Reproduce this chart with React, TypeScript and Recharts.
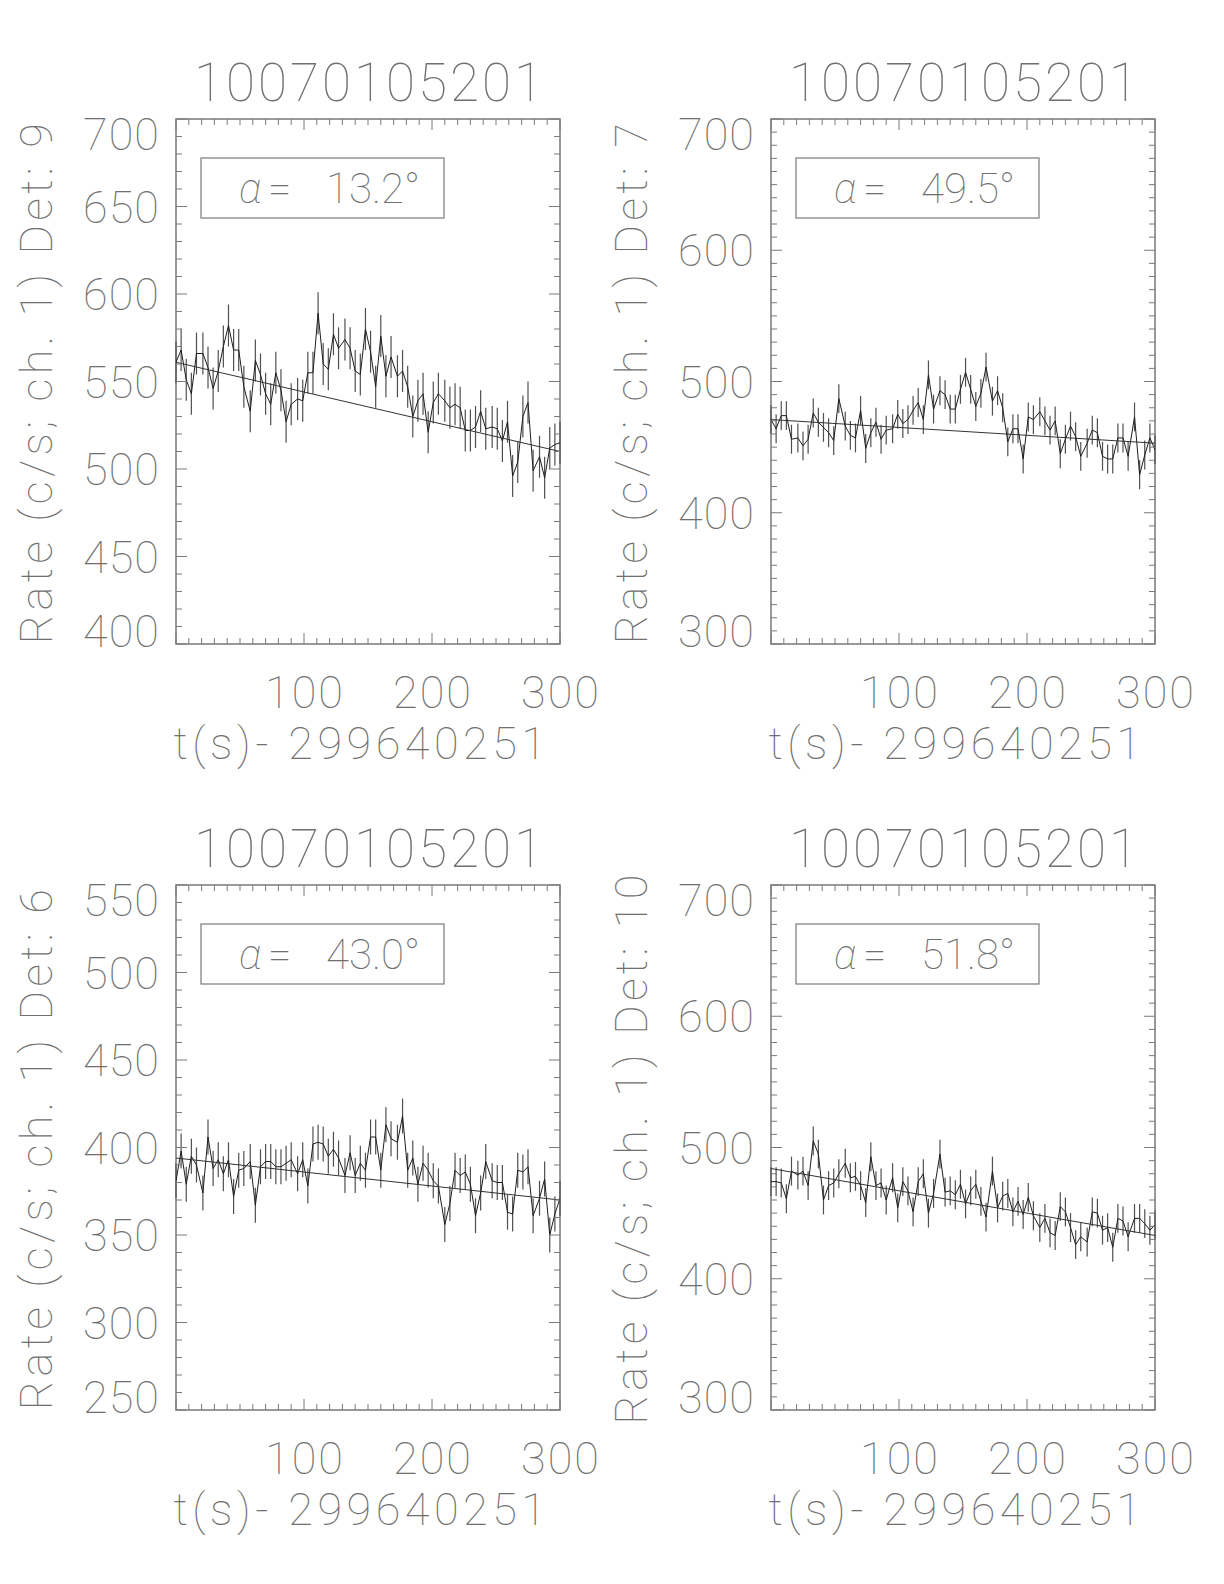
import React from 'react';
import { ComposedChart, Line, XAxis, YAxis, ErrorBar, ReferenceArea } from 'recharts';

const OBS_ID = '10070105201';
const T_LABEL = 't(s)- 299640251';

// bin times (s after 299640251)
const TIME = [
  0, 4, 8, 12, 16, 21, 25, 29, 33, 37,
  41, 45, 49, 53, 58, 62, 66, 70, 74, 78,
  82, 86, 90, 95, 99, 103, 107, 111, 115, 119,
  123, 127, 132, 136, 140, 144, 148, 152, 156, 160,
  164, 168, 173, 177, 181, 185, 189, 193, 197, 201,
  205, 210, 214, 218, 222, 226, 230, 234, 238, 242,
  247, 251, 255, 259, 263, 267, 271, 275, 279, 284,
  288, 292, 296, 300,
];

const RATE_DET9 = [
  561, 568, 551, 543, 566, 566, 558, 546, 556, 570,
  582, 568, 568, 547, 533, 562, 554, 543, 537, 555,
  545, 527, 537, 540, 539, 555, 555, 589, 560, 557,
  577, 569, 574, 569, 556, 554, 580, 567, 547, 576,
  553, 564, 553, 556, 547, 530, 539, 543, 521, 538,
  543, 539, 535, 537, 535, 522, 522, 524, 533, 523,
  524, 523, 516, 527, 496, 504, 530, 538, 499, 507,
  495, 512, 514, 515,
];
const RATE_DET7 = [
  471, 464, 474, 474, 456, 457, 451, 456, 476, 469,
  465, 461, 455, 487, 466, 459, 457, 478, 449, 461,
  469, 456, 463, 464, 475, 468, 471, 478, 484, 471,
  505, 479, 493, 490, 479, 479, 494, 507, 494, 481,
  491, 511, 485, 493, 480, 454, 464, 464, 441, 473,
  471, 477, 470, 463, 470, 445, 456, 466, 458, 443,
  453, 463, 461, 443, 441, 441, 457, 457, 443, 473,
  429, 444, 457, 448,
];
const RATE_DET6 = [
  381, 398, 379, 395, 390, 374, 406, 388, 393, 385,
  393, 372, 387, 388, 392, 367, 389, 392, 392, 389,
  389, 391, 393, 385, 393, 378, 402, 403, 402, 395,
  399, 394, 384, 397, 384, 391, 387, 406, 406, 387,
  413, 405, 403, 418, 387, 394, 379, 391, 387, 381,
  378, 356, 368, 387, 384, 386, 379, 361, 374, 392,
  381, 380, 380, 363, 362, 387, 386, 389, 361, 371,
  382, 350, 362, 371,
];
const RATE_DET10 = [
  474, 474, 473, 461, 482, 479, 482, 471, 505, 495,
  460, 471, 473, 480, 488, 477, 478, 471, 458, 493,
  471, 473, 460, 477, 454, 474, 467, 451, 474, 480,
  450, 465, 495, 466, 467, 464, 472, 457, 467, 472,
  459, 447, 482, 454, 463, 465, 451, 459, 449, 462,
  448, 439, 446, 435, 433, 455, 451, 439, 426, 432,
  428, 451, 450, 437, 439, 424, 446, 444, 432, 446,
  446, 442, 437, 441,
];

// 1-sigma error per bin
const ERR_DET9 = 12;
const ERR_DET7 = 11;
const ERR_DET6 = 10;
const ERR_DET10 = 11;

// straight-line fit, values at t = 0 and t = 300
const FIT_T = [0, 300];
const FIT_DET9 = [561, 510];
const FIT_DET7 = [471, 453];
const FIT_DET6 = [394, 370];
const FIT_DET10 = [484, 433];

const X_LABELS = [100, 200, 300];
const Y_LABELS_DET9 = [400, 450, 500, 550, 600, 650, 700];
const Y_LABELS_DET7 = [300, 400, 500, 600, 700];
const Y_LABELS_DET6 = [250, 300, 350, 400, 450, 500, 550];
const Y_LABELS_DET10 = [300, 400, 500, 600, 700];

const range = (a: number, b: number, s: number) => {
  const out: number[] = [];
  for (let v = a; v <= b; v += s) out.push(v);
  return out;
};
const X_TICKS = range(0, 300, 10);

// layout inside each chart
const CW = 600;
const CH = 780;
const PL = 176;
const PT = 119;
const PW = 384;
const PH = 525;
const PR = PL + PW;
const PB = PT + PH;
const MAJOR = 11;
const MINOR = 6;

const FONT = 'Roboto, "DejaVu Sans", sans-serif';
const TEXT = '#707070';
const AXIS = '#7a7a7a';

function XTick(props: any) {
  const { x, payload } = props;
  const v = payload.value;
  const len = v % 100 === 0 ? MAJOR : MINOR;
  return (
    <g>
      <line x1={x} x2={x} y1={PB} y2={PB - len} stroke={AXIS} strokeWidth={1} />
      <line x1={x} x2={x} y1={PT} y2={PT + len} stroke={AXIS} strokeWidth={1} />
      {X_LABELS.includes(v) && (
        <text x={x + 1} y={PB + 64} textAnchor="middle" fontFamily={FONT} fontWeight={100}
          fontSize={45} letterSpacing={2} fill={TEXT}>{v}</text>
      )}
    </g>
  );
}

function makeYTick(labels: number[], lo: number, hi: number) {
  return function YTick(props: any) {
    const { y, payload } = props;
    const v = payload.value;
    const major = labels.includes(v);
    const len = major ? MAJOR : MINOR;
    let cy = y;
    if (v === hi) cy = y + 15;
    if (v === lo) cy = y - 13;
    return (
      <g>
        <line x1={PL} x2={PL + len} y1={y} y2={y} stroke={AXIS} strokeWidth={1} />
        <line x1={PR} x2={PR - len} y1={y} y2={y} stroke={AXIS} strokeWidth={1} />
        {major && (
          <text x={160} y={cy + 16} textAnchor="end" fontFamily={FONT} fontWeight={100}
            fontSize={45} letterSpacing={1} fill={TEXT}>{v}</text>
        )}
      </g>
    );
  };
}

interface PanelProps {
  det: number;
  alpha: string;
  rate: number[];
  err: number;
  fit: number[];
  yLabels: number[];
  left: number;
  top: number;
}

function Panel({ det, alpha, rate, err, fit, yLabels, left, top }: PanelProps) {
  const lo = yLabels[0];
  const hi = yLabels[yLabels.length - 1];
  const rows = TIME.map((t, i) => ({ t, rate: rate[i], err }));
  const fitRows = FIT_T.map((t, i) => ({ t, fit: fit[i] }));
  const YTick = makeYTick(yLabels, lo, hi);

  return (
    <div style={{ position: 'absolute', left, top, width: CW, height: CH }}>
      <ComposedChart width={CW} height={CH} data={rows}
        margin={{ top: PT, right: CW - PR, bottom: 0, left: 0 }}>
        <XAxis type="number" dataKey="t" domain={[0, 300]} ticks={X_TICKS} interval={0}
          allowDataOverflow height={CH - PB} tickLine={false} axisLine={false} tick={<XTick />} />
        <YAxis type="number" domain={[lo, hi]} ticks={range(lo, hi, 10)} interval={0}
          allowDataOverflow width={PL} tickLine={false} axisLine={false} tick={<YTick />} />
        <ReferenceArea x1={0} x2={300} y1={lo} y2={hi} fill="none" stroke={AXIS}
          strokeWidth={1.5} ifOverflow="visible" />
        <Line type="linear" dataKey="rate" stroke="#1e1e1e" strokeWidth={1} dot={false}
          isAnimationActive={false}>
          <ErrorBar dataKey="err" width={0} stroke="#505050" strokeWidth={1.2} direction="y"
            isAnimationActive={false} />
        </Line>
        <Line type="linear" data={fitRows} dataKey="fit" stroke="#333" strokeWidth={1}
          dot={false} isAnimationActive={false} />
      </ComposedChart>
      <svg width={CW} height={CH} style={{ position: 'absolute', left: 0, top: 0, pointerEvents: 'none' }}>
        <text x={PL + PW / 2 + 2} y={101} textAnchor="middle" fontFamily={FONT} fontWeight={100}
          fontSize={53} letterSpacing={3} fill={TEXT}>{OBS_ID}</text>
        <text x={PL + PW / 2 - 6} y={PB + 115} textAnchor="middle" fontFamily={FONT}
          fontWeight={100} fontSize={45} letterSpacing={4.5} fill={TEXT}>{T_LABEL}</text>
        <text transform={`translate(52, ${PT + PH / 2}) rotate(-90)`} textAnchor="middle"
          fontFamily={FONT} fontWeight={100} fontSize={45} letterSpacing={4.3} fill={TEXT}>
          {`Rate (c/s; ch. 1) Det: ${det}`}
        </text>
        <rect x={PL + 25} y={PT + 39} width={243} height={60} fill="none" stroke={AXIS}
          strokeWidth={1.2} />
        <text y={PT + 84} fontFamily={FONT} fontWeight={100} fontSize={42} fill={TEXT}>
          <tspan x={PL + 63} fontStyle="italic">α</tspan>
          <tspan x={PL + 92}>=</tspan>
          <tspan x={PL + 150}>{`${alpha}°`}</tspan>
        </text>
      </svg>
    </div>
  );
}

export default function App() {
  return (
    <div style={{ position: 'relative', width: 1224, height: 1584, margin: -8, background: '#fff' }}>
      <Panel det={9} alpha="13.2" rate={RATE_DET9} err={ERR_DET9} fit={FIT_DET9}
        yLabels={Y_LABELS_DET9} left={0} top={0} />
      <Panel det={7} alpha="49.5" rate={RATE_DET7} err={ERR_DET7} fit={FIT_DET7}
        yLabels={Y_LABELS_DET7} left={595} top={0} />
      <Panel det={6} alpha="43.0" rate={RATE_DET6} err={ERR_DET6} fit={FIT_DET6}
        yLabels={Y_LABELS_DET6} left={0} top={766} />
      <Panel det={10} alpha="51.8" rate={RATE_DET10} err={ERR_DET10} fit={FIT_DET10}
        yLabels={Y_LABELS_DET10} left={595} top={766} />
    </div>
  );
}
